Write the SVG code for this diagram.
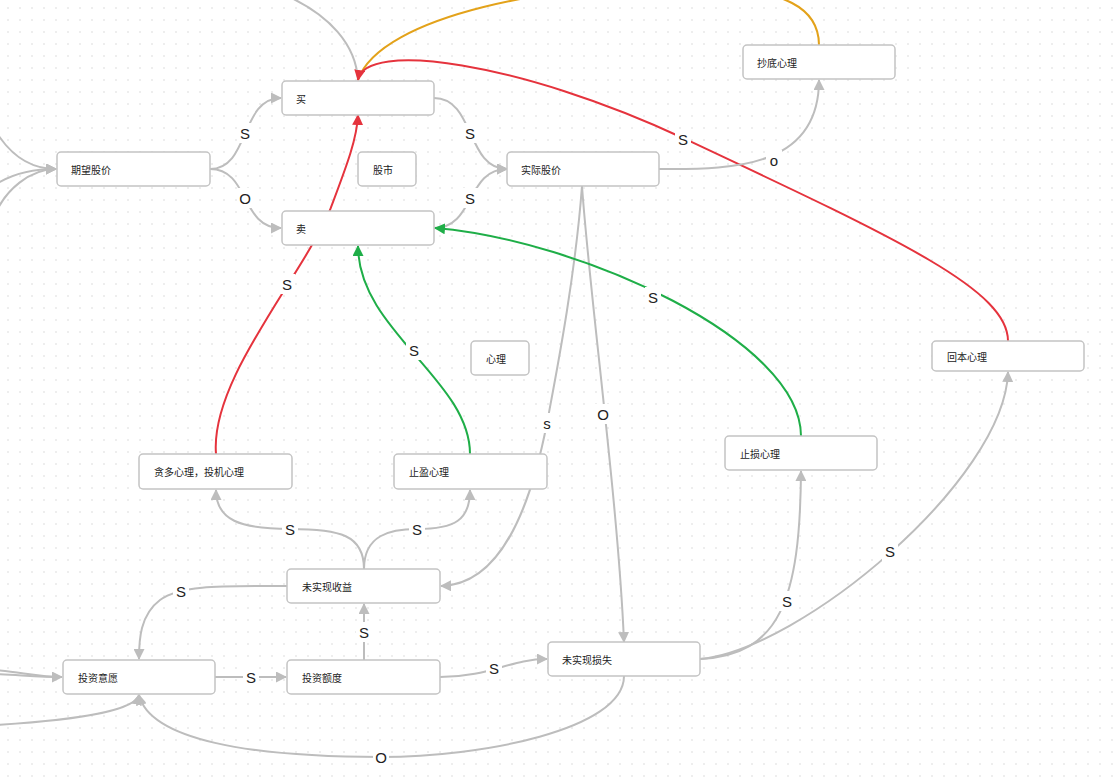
<svg xmlns="http://www.w3.org/2000/svg" width="1114" height="778" viewBox="0 0 1114 778">
<style>
.node rect{fill:#fff;stroke:#c4c4c4;stroke-width:1.5}
.node text{font-family:"Noto Sans CJK SC","Noto Sans",sans-serif;font-size:10px;fill:#222;dominant-baseline:central}
.e{fill:none;stroke-width:2}
.g{stroke:#bdbdbd}
.r{stroke:#e5333d}
.gr{stroke:#1fae48}
.o{stroke:#e3a21a}
.lb rect{fill:#fff}
.lb text{font-family:"Liberation Sans","Noto Sans",sans-serif;font-size:15px;fill:#222;text-anchor:middle;dominant-baseline:central}
</style>
<defs>
<pattern id="dots" width="12" height="12" patternUnits="userSpaceOnUse">
<circle cx="8" cy="8" r="0.8" fill="#d9d9d9"/>
</pattern>
<marker id="ag" markerWidth="11" markerHeight="11" refX="10" refY="5.5" orient="auto" markerUnits="userSpaceOnUse"><path d="M0,0 L11,5.5 L0,11 Z" fill="#bdbdbd"/></marker>
<marker id="ar" markerWidth="11" markerHeight="11" refX="10" refY="5.5" orient="auto" markerUnits="userSpaceOnUse"><path d="M0,0 L11,5.5 L0,11 Z" fill="#e5333d"/></marker>
<marker id="agr" markerWidth="11" markerHeight="11" refX="10" refY="5.5" orient="auto" markerUnits="userSpaceOnUse"><path d="M0,0 L11,5.5 L0,11 Z" fill="#1fae48"/></marker>
</defs>
<rect width="1114" height="778" fill="#fff"/>
<rect width="1114" height="778" fill="url(#dots)"/>
<g id="connectors">
<path class="e g" d="M285,-5 C330,15 356,45 358,80"/>
<path class="e o" d="M819,45 C819,10 790,-12 690,-15 C560,-18 380,15 358,80"/>
<path class="e r" d="M1008,341 C1008,290 900,240 683,138 C520,62 365,40 358,80" marker-end="url(#ar)"/>
<path class="e g" d="M210,169 C250,169 240,98 281,98" marker-end="url(#ag)"/>
<path class="e g" d="M210,169 C250,169 240,228 281,228" marker-end="url(#ag)"/>
<path class="e g" d="M434,98 C475,98 466,169 507,169" marker-end="url(#ag)"/>
<path class="e g" d="M434,228 C475,228 466,169 507,169" marker-end="url(#ag)"/>
<path class="e g" d="M659,169 C740,170 819,165 819,80" marker-end="url(#ag)"/>
<path class="e g" d="M582,186 C575,280 555,380 547,423 C530,510 500,585 441,586" marker-end="url(#ag)"/>
<path class="e g" d="M582,186 C590,300 618,500 624,642" marker-end="url(#ag)"/>
<path class="e r" d="M216,454 C210,380 300,280 330,210 C345,170 357,140 358,115" marker-end="url(#ar)"/>
<path class="e gr" d="M470,454 C470,380 358,330 358,246" marker-end="url(#agr)"/>
<path class="e gr" d="M801,436 C801,340 580,240 435,228" marker-end="url(#agr)"/>
<path class="e g" d="M364,569 C364,535 340,529 290,529 C240,529 216,520 216,490" marker-end="url(#ag)"/>
<path class="e g" d="M364,569 C364,535 390,529 417,529 C455,529 470,520 470,490" marker-end="url(#ag)"/>
<path class="e g" d="M287,586 C220,586 180,585 160,600 C140,615 139,640 139,659" marker-end="url(#ag)"/>
<path class="e g" d="M215,677 L286,677" marker-end="url(#ag)"/>
<path class="e g" d="M364,660 L364,604" marker-end="url(#ag)"/>
<path class="e g" d="M440,677 C490,677 510,659 547,659" marker-end="url(#ag)"/>
<path class="e g" d="M624,676 C624,730 480,757 381,757 C250,757 150,740 139,695" marker-end="url(#ag)"/>
<path class="e g" d="M700,659 C780,655 800,600 801,471" marker-end="url(#ag)"/>
<path class="e g" d="M700,659 C800,650 1005,480 1008,372" marker-end="url(#ag)"/>
<path class="e g" d="M-5,130 C10,155 30,169 56,169" marker-end="url(#ag)"/>
<path class="e g" d="M-5,185 C10,175 30,169 56,169" marker-end="url(#ag)"/>
<path class="e g" d="M-5,215 C5,190 30,169 56,169" marker-end="url(#ag)"/>
<path class="e g" d="M-5,670 C20,672 40,677 62,677" marker-end="url(#ag)"/>
<path class="e g" d="M-5,674 C20,675 40,677 62,677"/>
<path class="e g" d="M-5,725 C80,720 135,710 139,695" marker-end="url(#ag)"/>
</g>
<g id="labels">
<g class="lb"><rect x="237" y="123" width="16" height="20"/><text x="245" y="133">S</text></g>
<g class="lb"><rect x="237" y="188" width="16" height="20"/><text x="245" y="198">O</text></g>
<g class="lb"><rect x="462" y="123" width="16" height="20"/><text x="470" y="133">S</text></g>
<g class="lb"><rect x="462" y="188" width="16" height="20"/><text x="470" y="198">S</text></g>
<g class="lb"><rect x="675" y="129" width="16" height="20"/><text x="683" y="139">S</text></g>
<g class="lb"><rect x="766" y="150" width="16" height="20"/><text x="774" y="160">o</text></g>
<g class="lb"><rect x="539" y="413" width="16" height="20"/><text x="547" y="423">s</text></g>
<g class="lb"><rect x="595" y="404" width="16" height="20"/><text x="603" y="414">O</text></g>
<g class="lb"><rect x="279" y="274" width="16" height="20"/><text x="287" y="284">S</text></g>
<g class="lb"><rect x="406" y="340" width="16" height="20"/><text x="414" y="350">S</text></g>
<g class="lb"><rect x="645" y="287" width="16" height="20"/><text x="653" y="297">S</text></g>
<g class="lb"><rect x="282" y="519" width="16" height="20"/><text x="290" y="529">S</text></g>
<g class="lb"><rect x="409" y="519" width="16" height="20"/><text x="417" y="529">S</text></g>
<g class="lb"><rect x="173" y="581" width="16" height="20"/><text x="181" y="591">S</text></g>
<g class="lb"><rect x="243" y="667" width="16" height="20"/><text x="251" y="677">S</text></g>
<g class="lb"><rect x="356" y="622" width="16" height="20"/><text x="364" y="632">S</text></g>
<g class="lb"><rect x="486" y="658" width="16" height="20"/><text x="494" y="668">S</text></g>
<g class="lb"><rect x="373" y="747" width="16" height="20"/><text x="381" y="757">O</text></g>
<g class="lb"><rect x="779" y="591" width="16" height="20"/><text x="787" y="601">S</text></g>
<g class="lb"><rect x="882" y="541" width="16" height="20"/><text x="890" y="551">S</text></g>
</g>
<g id="n-buy" class="node"><rect x="282" y="81" width="152" height="34" rx="4"/><text x="296" y="98">买</text></g>
<g id="n-expect" class="node"><rect x="57" y="152" width="153" height="34" rx="4"/><text x="71" y="169">期望股价</text></g>
<g id="n-market" class="node"><rect x="358" y="152" width="58" height="34" rx="4"/><text x="373" y="169">股市</text></g>
<g id="n-actual" class="node"><rect x="507" y="152" width="152" height="34" rx="4"/><text x="521" y="169">实际股价</text></g>
<g id="n-sell" class="node"><rect x="282" y="211" width="152" height="34" rx="4"/><text x="296" y="228">卖</text></g>
<g id="n-bottom" class="node"><rect x="743" y="45" width="152" height="34" rx="4"/><text x="757" y="62">抄底心理</text></g>
<g id="n-psy" class="node"><rect x="471" y="341" width="58" height="34" rx="4"/><text x="486" y="358">心理</text></g>
<g id="n-breakeven" class="node"><rect x="932" y="341" width="152" height="30" rx="4"/><text x="947" y="356">回本心理</text></g>
<g id="n-greed" class="node"><rect x="139" y="454" width="153" height="35" rx="4"/><text x="154" y="471">贪多心理，投机心理</text></g>
<g id="n-takeprofit" class="node"><rect x="394" y="454" width="153" height="35" rx="4"/><text x="409" y="471">止盈心理</text></g>
<g id="n-stoploss" class="node"><rect x="725" y="436" width="152" height="34" rx="4"/><text x="740" y="453">止损心理</text></g>
<g id="n-ugain" class="node"><rect x="287" y="569" width="153" height="34" rx="4"/><text x="302" y="586">未实现收益</text></g>
<g id="n-will" class="node"><rect x="63" y="660" width="152" height="34" rx="4"/><text x="78" y="677">投资意愿</text></g>
<g id="n-amount" class="node"><rect x="287" y="660" width="153" height="34" rx="4"/><text x="302" y="677">投资额度</text></g>
<g id="n-uloss" class="node"><rect x="548" y="642" width="152" height="34" rx="4"/><text x="562" y="659">未实现损失</text></g>
</svg>
